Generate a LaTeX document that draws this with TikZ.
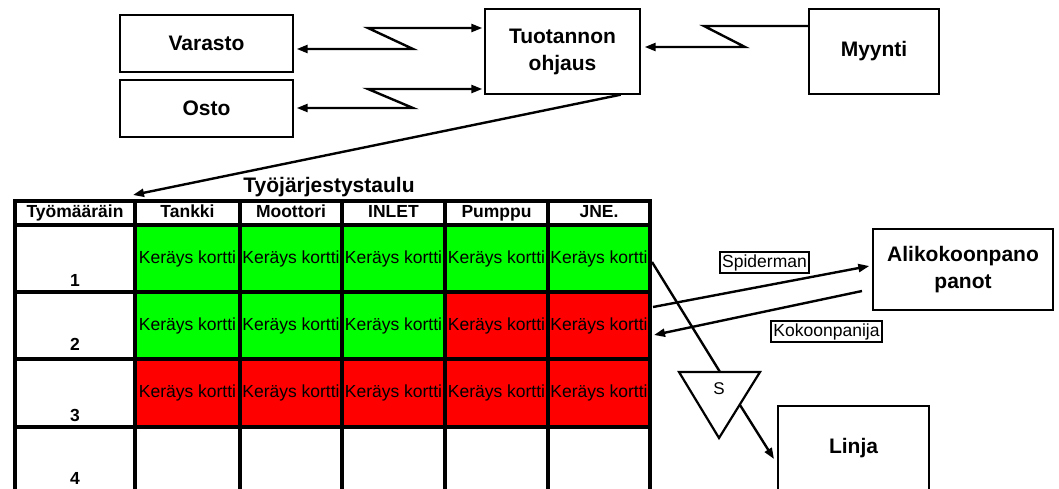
\documentclass[tikz,border=0pt]{standalone}
\usepackage{fontspec}
\setmainfont{Liberation Sans}
\usetikzlibrary{arrows.meta}
\definecolor{cardgreen}{RGB}{0,255,0}
\definecolor{cardred}{RGB}{255,0,0}

\begin{document}
\begin{tikzpicture}[x=1pt,y=-1pt,
  box/.style={draw, line width=1.4pt, align=center, inner sep=0pt,
    font=\fontsize{21}{27}\selectfont\bfseries},
  tag/.style={draw, line width=2.3pt, inner sep=2.5pt,
    font=\fontsize{17.5}{20}\selectfont},
  link/.style={line width=2.4pt},
  tip/.tip={Triangle[length=11pt,width=8pt]},
  arr/.style={link, -tip},
  dblarr/.style={link, tip-tip},
  cell/.style={draw, line width=3.8pt, inner sep=0pt,
    font=\fontsize{17.5}{20}\selectfont},
  headcell/.style={cell, fill=white, text height=12.5pt, text depth=3.5pt,
    font=\fontsize{17.5}{20}\selectfont\bfseries},
  rownum/.style={font=\fontsize{17.5}{20}\selectfont\bfseries, anchor=base},
]
\useasboundingbox (0,0) rectangle (1059,488);
\clip (0,0) rectangle (1059,488);

% --- upper boxes ---
\node[box, minimum width=173pt, minimum height=57pt] (varasto) at (206.5,43.5) {Varasto};
\node[box, minimum width=173pt, minimum height=57pt] (osto) at (206.5,108.5) {Osto};
\node[box, minimum width=155pt, minimum height=85pt] (tuot) at (562.5,51.5) {Tuotannon\\ohjaus};
\node[box, minimum width=130pt, minimum height=85pt] (myynti) at (874,51.5) {Myynti};

% --- zigzag links ---
\coordinate (v1) at (368,28);
\coordinate (v2) at (413,49);
\draw[dblarr] ([yshift=-5.5pt,xshift=3pt]varasto.east) -- (v2) -- (v1) -- ([xshift=-2pt]tuot.west |- v1);
\coordinate (o1) at (368,89);
\coordinate (o2) at (413,108);
\draw[dblarr] ([xshift=3pt]osto.east |- o2) -- (o2) -- (o1) -- ([xshift=-2pt]tuot.west |- o1);
\coordinate (m1) at (704,26);
\coordinate (m2) at (745,47);
\draw[arr] (myynti.west |- m1) -- (m1) -- (m2) -- ([xshift=4pt]tuot.east |- m2);

% --- work order board ---
\node[font=\fontsize{21}{25}\selectfont\bfseries] (title) at (329,187) {Työjärjestystaulu};

\node[headcell, minimum width=120pt, minimum height=24pt] (h0) at (75,213) {Työmääräin};
\foreach \c/\x/\w/\t in {1/187.5/105/Tankki, 2/291/102/Moottori, 3/393.5/103/INLET,
                         4/496.5/103/Pumppu, 5/599/102/JNE.}
  \node[headcell, minimum width=\w pt, minimum height=24pt] (h\c) at (\x,213) {\t};

\foreach \r/\y/\h/\b in {1/258.5/67/286, 2/325.5/67/350, 3/393/68/421, 4/463.5/73/484} {
  \node[cell, fill=white, minimum width=120pt, minimum height=\h pt] (r\r c0) at (75,\y) {};
  \node[rownum] (n\r) at (75,\b) {\r};
}
\foreach \r/\y/\h in {1/258.5/67, 2/325.5/67, 3/393/68} {
  \foreach \c/\x/\w in {1/187.5/105, 2/291/102, 3/393.5/103, 4/496.5/103, 5/599/102} {
    \pgfmathtruncatemacro\isred{(\r==3) || (\r==2 && \c>3)}
    \ifnum\isred=1 \def\cellfill{cardred}\else\def\cellfill{cardgreen}\fi
    \node[cell, fill=\cellfill, minimum width=\w pt, minimum height=\h pt] (r\r c\c) at (\x,\y) {Keräys kortti};
  }
}
\foreach \c/\x/\w in {1/187.5/105, 2/291/102, 3/393.5/103, 4/496.5/103, 5/599/102}
  \node[cell, fill=white, minimum width=\w pt, minimum height=73pt] (r4c\c) at (\x,463.5) {};

% --- link from production control down to the board ---
\coordinate (boardin) at (133,195);
\draw[arr] ([xshift=-20pt]tuot.south east) -- (boardin);

% --- sub-assembly ---
\node[box, minimum width=180pt, minimum height=81pt] (alik) at (963,269.5) {Alikokoonpano\\panot};
\node[tag] (spider) at (764.5,262.5) {Spiderman};
\node[tag] (kokoon) at (826.5,331.5) {Kokoonpanija};

\coordinate (sp0) at (653,307);
\draw[arr] (sp0) -- ([xshift=-3pt,yshift=3.5pt]alik.west);
\coordinate (kp0) at (862,291);
\coordinate (kp1) at (654,335);
\draw[arr] (kp0) -- (kp1);

% --- supermarket triangle and line ---
\coordinate (t1) at (679,372);
\coordinate (t2) at (760,372);
\coordinate (t3) at (719,438);
\draw[line width=2.2pt, line join=miter] (t1) -- (t2) -- (t3) -- cycle;
\node[font=\fontsize{17}{19}\selectfont] (s) at (719,389) {S};
\coordinate (jn0) at (652,262);
\coordinate (ttop) at (720,372);
\draw[link] (jn0) -- (ttop);

\node[box, minimum width=151pt, minimum height=84pt] (linja) at (853.5,448) {Linja};
\coordinate (tside) at (740,405);
\coordinate (lj) at (774,459);
\draw[arr] (tside) -- (lj);
\end{tikzpicture}
\end{document}
